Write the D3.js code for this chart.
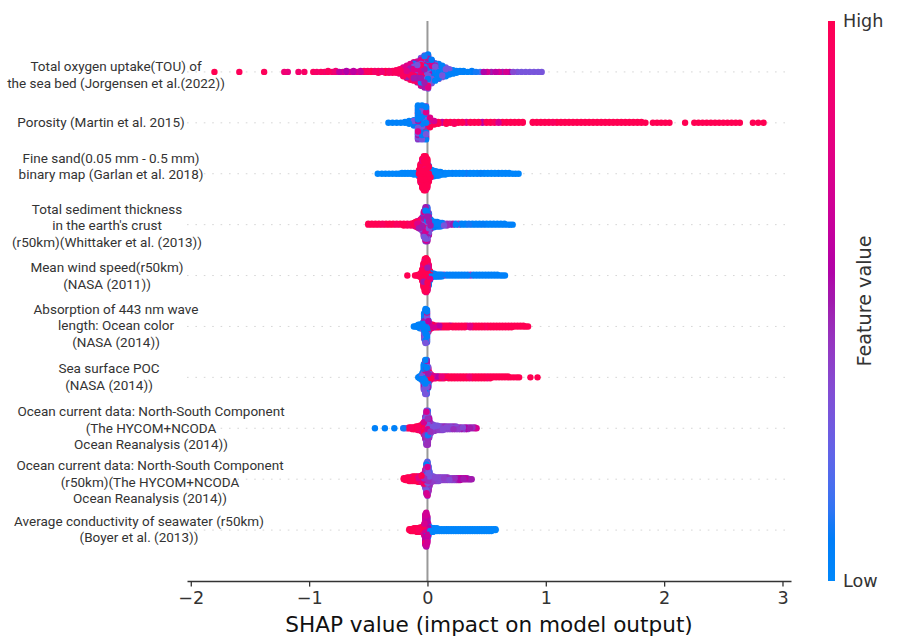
<!DOCTYPE html>
<html>
<head>
<meta charset="utf-8">
<script src="https://cdn.jsdelivr.net/npm/d3@7"></script>
<style>
  body { margin: 0; background: #fff; }
  svg { display: block; }
</style>
</head>
<body>
<svg id="chart" width="901" height="636"></svg>
<script>
// ---------------------------------------------------------------------------
// Feature names, top row first (wrapped onto separate lines)
// ---------------------------------------------------------------------------
const featureLabels = [
  ["Total oxygen uptake(TOU) of", "the sea bed (Jorgensen et al.(2022))"],
  ["Porosity (Martin et al. 2015)"],
  ["Fine sand(0.05 mm - 0.5 mm)", "binary map (Garlan et al. 2018)"],
  ["Total sediment thickness", "in the earth's crust", "(r50km)(Whittaker et al. (2013))"],
  ["Mean wind speed(r50km)", "(NASA (2011))"],
  ["Absorption of 443 nm wave", "length: Ocean color", "(NASA (2014))"],
  ["Sea surface POC", "(NASA (2014))"],
  ["Ocean current data: North-South Component", "(The HYCOM+NCODA", "Ocean Reanalysis (2014))"],
  ["Ocean current data: North-South Component", "(r50km)(The HYCOM+NCODA", "Ocean Reanalysis (2014))"],
  ["Average conductivity of seawater (r50km)", "(Boyer et al. (2013))"]
];

// ---------------------------------------------------------------------------
// SHAP values per feature, as histogram entries:
//   [SHAP value, number of samples, normalised feature value (0 = low, 1 = high)]
// ---------------------------------------------------------------------------
const oxygenUptake = [
  [-1.80,1,1],[-1.59,1,0.97],[-1.38,1,0.97],[-1.21,1,0.85],[-1.18,1,0.8],[-1.09,1,0.88],[-1.04,1,0.92],
  [-0.965,1,0.95],[-0.935,1,0.9],[-0.90,1,0.95],[-0.87,1,0.88],[-0.84,2,0.95],[-0.805,1,0.9],[-0.775,2,0.85],
  [-0.745,1,0.6],[-0.715,1,0.7],[-0.685,2,0.55],[-0.655,1,0.75],[-0.625,2,0.6],[-0.595,1,0.8],[-0.565,2,0.65],[-0.535,2,0.9],
  [-0.505,2,0.95],[-0.475,2,1],[-0.445,2,0.9],[-0.415,3,0.95],[-0.385,2,0.85],[-0.355,3,1],[-0.325,3,0.9],[-0.295,3,0.95],[-0.265,4,0.95],
  [-0.235,4,0.95],[-0.235,2,0.75],
  [-0.205,6,0.95],[-0.205,3,0.75],[-0.205,2,0.5],
  [-0.175,7,0.95],[-0.175,4,0.75],[-0.175,3,0.5],[-0.175,1,0.1],
  [-0.145,7,0.95],[-0.145,5,0.75],[-0.145,4,0.5],[-0.145,3,0.15],
  [-0.115,6,0.95],[-0.115,6,0.75],[-0.115,5,0.5],[-0.115,3,0.3],[-0.115,2,0.1],
  [-0.085,5,0.95],[-0.085,6,0.75],[-0.085,6,0.5],[-0.085,4,0.3],[-0.085,4,0.1],
  [-0.055,5,0.95],[-0.055,7,0.75],[-0.055,8,0.5],[-0.055,7,0.3],[-0.055,6,0.1],
  [-0.025,4,0.95],[-0.025,6,0.75],[-0.025,10,0.5],[-0.025,10,0.3],[-0.025,8,0.1],
  [0.005,3,0.95],[0.005,5,0.75],[0.005,10,0.5],[0.005,11,0.3],[0.005,11,0.08],
  [0.035,3,0.75],[0.035,7,0.5],[0.035,8,0.3],[0.035,10,0.08],
  [0.065,4,0.5],[0.065,6,0.3],[0.065,11,0.05],
  [0.095,2,0.5],[0.095,5,0.3],[0.095,11,0.05],
  [0.125,4,0.3],[0.125,10,0.05],
  [0.155,3,0.3],[0.155,8,0.05],
  [0.185,2,0.3],[0.185,5,0.05],
  [0.215,1,0.3],[0.215,4,0.05],
  [0.245,3,0.05],
  [0.275,2,0.05],[0.305,2,0.05],[0.34,1,0.05],[0.375,2,0.08],[0.41,1,0.1],[0.445,1,0.15],[0.475,1,0.55],[0.505,1,0.7],
  [0.54,1,0.5],[0.575,1,0.6],[0.605,1,0.7],[0.635,1,0.5],[0.665,1,0.7],[0.695,1,0.55],[0.725,1,0.35],[0.76,1,0.3],
  [0.795,1,0.3],[0.83,1,0.3],[0.865,1,0.3],[0.90,1,0.3],[0.935,1,0.3],[0.965,1,0.3]
];

const porosity = [
  [-0.33,1,0.05],[-0.295,1,0.05],[-0.26,1,0.05],[-0.225,1,0.05],[-0.19,2,0.05],[-0.155,4,0.05],[-0.115,6,0.08],[-0.115,1,0.3],
  [-0.08,22,0.05],[-0.08,11,0.3],[-0.08,5,0.5],[-0.08,1,0.75],[-0.08,1,1],
  [-0.046,20,0.05],[-0.046,11,0.3],[-0.046,6,0.5],[-0.046,2,0.75],[-0.046,1,1],
  [-0.012,15,0.05],[-0.012,10,0.3],[-0.012,7,0.5],[-0.012,4,0.75],[-0.012,3,1],
  [0.022,2,0.05],[0.022,2,0.5],[0.022,5,0.75],[0.022,3,1],
  [0.057,3,1],[0.057,2,0.7],[0.091,3,1],[0.125,2,0.65],[0.159,3,1],[0.193,2,1],[0.227,3,0.95],[0.261,2,1],[0.295,2,1],
  [0.329,2,0.75],[0.363,2,1],[0.397,2,1],[0.431,2,1],[0.465,2,0.6],[0.499,2,1],[0.533,2,1],[0.567,2,0.95],[0.601,2,0.7],
  [0.635,2,1],[0.669,2,1],[0.703,2,1],[0.737,2,1],[0.771,2,1],[0.805,2,1],
  [0.89,2,1],[0.924,2,1],[0.958,2,1],[0.992,2,1],[1.026,2,1],[1.06,2,0.95],[1.094,2,1],[1.128,2,1],[1.162,2,1],
  [1.196,2,1],[1.23,2,1],[1.264,2,1],[1.298,2,1],[1.332,2,1],[1.366,2,1],[1.40,2,1],[1.434,2,1],[1.468,2,1],
  [1.502,2,1],[1.536,2,1],[1.57,2,1],[1.604,2,1],[1.638,2,1],[1.672,2,1],[1.706,2,1],[1.74,2,1],[1.774,2,1],
  [1.808,2,1],[1.842,1,1],
  [1.905,1,1],[1.94,1,1],[1.975,1,1],[2.01,1,1],[2.045,1,1],
  [2.177,1,1],
  [2.255,1,1],[2.29,1,1],[2.325,1,1],[2.36,1,1],[2.395,1,1],[2.43,1,1],[2.465,1,1],[2.50,1,1],[2.535,1,1],
  [2.57,1,1],[2.605,1,1],[2.64,1,1],
  [2.75,1,1],[2.795,1,1],[2.84,1,1]
];

const fineSand = [
  [-0.42,1,0.02],[-0.385,1,0.02],[-0.355,1,0.02],[-0.325,1,0.02],[-0.295,1,0.02],[-0.265,1,0.02],[-0.24,1,0.02],
  [-0.215,2,0.02],[-0.19,2,0.02],[-0.165,2,0.02],[-0.14,2,0.02],[-0.115,3,0.02],[-0.09,3,0.02],
  [-0.072,7,1],[-0.072,1,0.02],
  [-0.058,20,1],[-0.058,2,0.8],
  [-0.044,30,1],[-0.044,4,0.8],
  [-0.030,35,1],[-0.030,5,0.8],
  [-0.016,34,1],[-0.016,5,0.85],[-0.016,1,0.3],
  [-0.002,28,1],[-0.002,4,0.85],[-0.002,2,0.05],
  [0.012,12,1],[0.012,2,0.8],[0.012,5,0.05],
  [0.026,3,1],[0.026,6,0.02],[0.026,1,0.3],
  [0.04,8,0.02],[0.054,7,0.02],[0.068,6,0.05],[0.082,5,0.02],[0.096,5,0.02],[0.11,4,0.05],[0.125,3,0.02],
  [0.15,3,0.02],[0.18,2,0.02],[0.21,2,0.05],[0.24,2,0.02],[0.27,2,0.02],[0.30,2,0.02],[0.33,2,0.1],[0.36,2,0.02],
  [0.39,2,0.02],[0.42,2,0.02],[0.45,2,0.05],[0.48,2,0.02],[0.51,2,0.02],[0.54,2,0.02],[0.57,2,0.02],[0.60,2,0.05],
  [0.63,2,0.02],[0.66,2,0.02],[0.69,2,0.02],[0.72,1,0.02],[0.745,1,0.02],[0.77,1,0.02]
];

const sedimentThickness = [
  [-0.50,2,1],[-0.47,2,1],[-0.44,2,1],[-0.41,2,1],[-0.38,2,0.95],[-0.35,2,1],[-0.32,2,1],[-0.29,2,1],[-0.26,2,0.95],
  [-0.23,2,1],[-0.20,3,1],[-0.17,3,0.95],[-0.14,3,1],
  [-0.115,3,1],[-0.115,1,0.75],
  [-0.10,3,1],[-0.10,2,0.75],[-0.10,1,0.5],
  [-0.086,3,1],[-0.086,3,0.75],[-0.086,2,0.5],
  [-0.072,3,1],[-0.072,3,0.75],[-0.072,3,0.5],
  [-0.058,3,0.95],[-0.058,4,0.75],[-0.058,3,0.5],[-0.058,2,0.3],
  [-0.044,3,0.9],[-0.044,4,0.7],[-0.044,5,0.5],[-0.044,4,0.3],
  [-0.030,3,0.9],[-0.030,6,0.7],[-0.030,10,0.5],[-0.030,8,0.3],[-0.030,3,0.05],
  [-0.016,2,0.9],[-0.016,6,0.7],[-0.016,13,0.5],[-0.016,12,0.3],[-0.016,7,0.05],
  [-0.002,1,0.9],[-0.002,5,0.7],[-0.002,12,0.5],[-0.002,12,0.3],[-0.002,10,0.05],
  [0.012,3,0.7],[0.012,8,0.5],[0.012,8,0.3],[0.012,7,0.05],
  [0.026,2,0.5],[0.026,4,0.3],[0.026,6,0.05],
  [0.04,1,0.3],[0.04,7,0.05],[0.054,7,0.05],[0.068,6,0.08],[0.082,6,0.05],[0.096,5,0.05],[0.11,5,0.1],[0.125,4,0.05],[0.14,3,0.3],
  [0.165,3,0.45],[0.19,2,0.35],[0.215,2,0.5],[0.24,2,0.05],[0.265,2,0.4],[0.29,2,0.05],[0.32,2,0.05],[0.35,2,0.1],
  [0.38,2,0.05],[0.41,2,0.05],[0.44,2,0.05],[0.47,2,0.08],[0.50,2,0.05],[0.53,2,0.05],[0.56,2,0.05],[0.59,2,0.05],
  [0.62,2,0.05],[0.65,2,0.05],[0.68,1,0.05],[0.70,1,0.05],[0.72,1,0.05]
];

const windSpeed = [
  [-0.17,1,1],[-0.105,1,1],[-0.09,1,0.95],[-0.077,2,1],[-0.066,3,1],
  [-0.055,6,1],
  [-0.044,12,1],[-0.044,2,0.8],
  [-0.033,22,1],[-0.033,5,0.8],[-0.033,1,0.5],
  [-0.022,28,1],[-0.022,8,0.8],[-0.022,2,0.5],
  [-0.011,27,1],[-0.011,9,0.8],[-0.011,3,0.5],[-0.011,1,0.2],
  [0.0,22,1],[0.0,8,0.8],[0.0,3,0.5],[0.0,3,0.1],
  [0.011,12,1],[0.011,5,0.8],[0.011,2,0.4],[0.011,5,0.05],
  [0.022,4,1],[0.022,2,0.75],[0.022,5,0.05],
  [0.033,5,0.05],[0.044,4,0.05],[0.055,4,0.05],[0.066,3,0.05],[0.077,3,0.08],[0.09,3,0.05],[0.105,3,0.05],[0.12,3,0.05],
  [0.14,2,0.4],[0.165,2,0.05],[0.19,2,0.05],[0.215,2,0.05],[0.24,2,0.05],[0.265,2,0.05],[0.29,2,0.05],[0.315,2,0.05],
  [0.34,2,0.05],[0.365,2,0.4],[0.39,2,0.05],[0.415,2,0.05],[0.44,2,0.05],[0.465,2,0.05],[0.49,2,0.05],[0.515,2,0.05],
  [0.54,2,0.05],[0.565,2,0.05],[0.59,2,0.05],[0.615,1,0.05],[0.635,1,0.05],[0.655,1,0.05]
];

const absorption443 = [
  [-0.115,1,0.05],[-0.10,1,0.05],[-0.088,2,0.05],[-0.076,4,0.05],[-0.064,4,0.05],[-0.064,1,0.3],[-0.052,4,0.05],
  [-0.040,6,0.05],[-0.040,2,0.3],
  [-0.028,16,0.05],[-0.028,8,0.3],[-0.028,4,0.5],[-0.028,2,0.75],
  [-0.016,20,0.05],[-0.016,10,0.3],[-0.016,6,0.5],[-0.016,3,0.75],[-0.016,1,1],
  [-0.004,18,0.05],[-0.004,10,0.3],[-0.004,6,0.5],[-0.004,3,0.75],[-0.004,1,1],
  [0.008,5,0.05],[0.008,4,0.3],[0.008,3,0.6],[0.008,2,1],
  [0.02,5,1],[0.02,2,0.7],[0.032,4,1],[0.032,1,0.6],[0.044,4,1],[0.056,3,0.7],[0.07,3,1],[0.085,3,1],[0.10,3,0.6],
  [0.12,3,1],[0.14,3,1],[0.16,3,1],[0.18,3,1],[0.195,2,0.55],[0.215,3,1],[0.24,3,1],[0.265,3,0.95],[0.29,3,1],
  [0.315,3,1],[0.335,2,0.7],[0.36,3,0.75],[0.385,3,1],[0.41,3,1],[0.435,3,1],[0.46,3,1],[0.485,3,0.95],[0.51,3,1],
  [0.535,3,1],[0.56,3,1],[0.585,3,1],[0.61,3,1],[0.635,3,1],[0.66,3,1],[0.685,3,1],[0.71,3,1],[0.735,2,1],
  [0.76,2,1],[0.785,2,1],[0.81,2,1],[0.83,1,1],[0.85,1,1]
];

const seaSurfacePoc = [
  [-0.078,1,0.05],[-0.066,3,0.05],[-0.054,5,0.05],
  [-0.042,6,0.05],[-0.042,4,0.3],
  [-0.030,16,0.05],[-0.030,8,0.3],[-0.030,4,0.5],[-0.030,2,0.75],
  [-0.018,18,0.05],[-0.018,10,0.3],[-0.018,6,0.5],[-0.018,4,0.75],[-0.018,2,1],
  [-0.006,16,0.05],[-0.006,10,0.3],[-0.006,7,0.5],[-0.006,4,0.75],[-0.006,3,1],
  [0.006,8,0.05],[0.006,6,0.3],[0.006,5,0.5],[0.006,4,0.75],[0.006,2,1],
  [0.018,2,0.3],[0.018,4,0.75],[0.018,4,1],
  [0.03,3,1],[0.03,2,0.75],[0.03,1,0.5],[0.042,2,1],[0.042,2,0.7],[0.055,3,0.75],[0.07,3,1],[0.085,2,0.55],
  [0.10,3,1],[0.12,3,0.8],[0.14,3,1],[0.16,2,0.6],[0.18,3,1],[0.205,3,1],[0.23,3,1],[0.255,3,0.95],[0.28,3,1],
  [0.305,3,1],[0.33,3,1],[0.355,3,0.85],[0.38,3,1],[0.405,3,1],[0.43,3,1],[0.455,3,1],[0.48,3,1],[0.505,3,0.9],
  [0.53,3,1],[0.555,2,1],[0.58,2,1],[0.605,2,1],[0.63,2,1],[0.655,2,1],[0.68,2,1],[0.705,1,1],[0.73,1,1],
  [0.755,1,1],[0.775,1,1],[0.87,1,1],[0.93,1,1]
];

const currentNS = [
  [-0.444,1,0.05],[-0.36,1,0.05],[-0.28,1,0.05],[-0.205,1,0.1],[-0.19,1,0.25],
  [-0.17,1,1],[-0.155,2,1],[-0.14,2,0.95],[-0.125,3,1],[-0.11,3,1],[-0.095,4,1],[-0.08,4,0.95],[-0.08,1,0.8],
  [-0.065,5,1],[-0.065,1,0.8],[-0.052,5,1],[-0.052,2,0.8],
  [-0.041,5,1],[-0.041,3,0.75],[-0.041,2,0.45],
  [-0.030,4,1],[-0.030,4,0.7],[-0.030,4,0.45],[-0.030,3,0.3],
  [-0.019,3,0.95],[-0.019,5,0.7],[-0.019,8,0.45],[-0.019,8,0.3],[-0.019,2,0.1],
  [-0.008,3,0.95],[-0.008,6,0.7],[-0.008,13,0.45],[-0.008,13,0.3],[-0.008,5,0.1],
  [0.003,2,0.95],[0.003,6,0.7],[0.003,13,0.45],[0.003,13,0.3],[0.003,6,0.1],
  [0.014,1,0.9],[0.014,4,0.65],[0.014,8,0.45],[0.014,8,0.3],[0.014,3,0.1],
  [0.025,3,0.6],[0.025,5,0.45],[0.025,5,0.3],
  [0.036,5,0.4],[0.036,4,0.3],[0.047,4,0.45],[0.047,4,0.3],[0.058,4,0.4],[0.058,3,0.3],[0.07,3,0.45],[0.07,3,0.3],
  [0.085,3,0.4],[0.085,3,0.3],[0.10,5,0.35],[0.115,5,0.4],[0.13,5,0.35],[0.145,4,0.45],[0.16,4,0.35],[0.18,4,0.4],
  [0.20,4,0.35],[0.22,4,0.45],[0.24,4,0.35],[0.26,3,0.4],[0.28,3,0.5],[0.30,3,0.35],[0.32,3,0.55],[0.34,3,0.4],
  [0.36,2,0.5],[0.38,2,0.45],[0.40,2,0.6],[0.415,1,0.7]
];

const currentNS50 = [
  [-0.2,2,1],[-0.185,3,1],[-0.17,4,1],[-0.155,4,1],[-0.155,1,0.8],[-0.14,5,0.95],[-0.125,5,1],[-0.125,1,0.75],
  [-0.11,5,1],[-0.11,1,0.8],[-0.095,5,1],[-0.095,1,0.7],[-0.08,5,1],[-0.08,2,0.75],[-0.065,5,0.95],[-0.065,2,0.7],
  [-0.05,5,1],[-0.05,3,0.75],
  [-0.038,4,1],[-0.038,4,0.7],[-0.038,2,0.45],
  [-0.028,3,0.95],[-0.028,4,0.7],[-0.028,4,0.45],[-0.028,2,0.3],
  [-0.018,2,0.9],[-0.018,4,0.7],[-0.018,8,0.45],[-0.018,6,0.3],[-0.018,2,0.05],
  [-0.008,2,0.9],[-0.008,5,0.7],[-0.008,12,0.45],[-0.008,12,0.3],[-0.008,5,0.05],
  [0.0,1,0.9],[0.0,5,0.7],[0.0,12,0.45],[0.0,12,0.3],[0.0,10,0.05],
  [0.008,1,0.9],[0.008,4,0.7],[0.008,10,0.45],[0.008,10,0.3],[0.008,5,0.05],
  [0.016,3,0.65],[0.016,6,0.45],[0.016,6,0.3],[0.016,3,0.05],
  [0.025,4,0.45],[0.025,5,0.3],[0.025,1,0.05],
  [0.035,4,0.4],[0.035,3,0.3],[0.05,3,0.45],[0.05,3,0.3],[0.065,5,0.35],[0.08,5,0.4],[0.095,5,0.35],[0.11,4,0.45],
  [0.125,4,0.35],[0.14,4,0.4],[0.155,4,0.35],[0.17,4,0.45],[0.185,3,0.35],[0.20,3,0.4],[0.215,3,0.35],[0.23,3,0.45],
  [0.245,3,0.5],[0.26,3,0.65],[0.275,3,0.55],[0.29,2,0.65],[0.305,2,0.5],[0.32,2,0.6],[0.335,2,0.45],[0.35,1,0.5],
  [0.362,1,0.45],[0.374,1,0.5]
];

const conductivity = [
  [-0.153,2,1],[-0.14,3,1],[-0.127,3,1],[-0.114,4,1],[-0.10,4,1],[-0.087,5,1],[-0.074,5,0.95],[-0.061,6,1],[-0.048,6,0.95],
  [-0.036,5,1],[-0.036,3,0.75],
  [-0.026,4,0.9],[-0.026,6,0.7],[-0.026,4,0.6],
  [-0.018,4,0.9],[-0.018,14,0.68],[-0.018,12,0.6],[-0.018,4,0.55],
  [-0.010,3,0.9],[-0.010,16,0.68],[-0.010,14,0.6],[-0.010,5,0.5],
  [-0.002,2,0.9],[-0.002,12,0.68],[-0.002,10,0.6],[-0.002,4,0.5],[-0.002,2,0.05],
  [0.006,5,0.65],[0.006,4,0.55],[0.006,6,0.05],
  [0.015,7,0.02],[0.024,6,0.02],[0.034,5,0.02],[0.045,5,0.02],[0.06,4,0.02],[0.08,4,0.02],[0.10,3,0.02],[0.12,3,0.02],
  [0.14,3,0.02],[0.16,3,0.05],[0.18,3,0.02],[0.20,3,0.02],[0.22,3,0.02],[0.24,3,0.02],[0.26,3,0.02],[0.28,3,0.02],
  [0.30,3,0.02],[0.32,3,0.02],[0.34,3,0.02],[0.36,3,0.02],[0.38,3,0.02],[0.40,3,0.02],[0.42,3,0.02],[0.44,3,0.02],
  [0.46,3,0.02],[0.48,3,0.02],[0.50,3,0.02],[0.52,3,0.02],[0.54,3,0.02],[0.56,2,0.02],[0.575,2,0.02]
];

const featureSeries = [
  oxygenUptake, porosity, fineSand, sedimentThickness, windSpeed,
  absorption443, seaSurfacePoc, currentNS, currentNS50, conductivity
];

const xTicks = [-2, -1, 0, 1, 2, 3];
const colorbarTicks = ["Low", "High"];

// ---------------------------------------------------------------------------
// Layout
// ---------------------------------------------------------------------------
const plot = { left: 187, right: 791, top: 21, bottom: 581 };
// horizontal centre of each wrapped label and vertical shift of the block
const labelPlacement = [[116, 3], [101, -0.5], [111, -7.5], [107, 1], [107, 0],
                        [116, -1], [109, -0.5], [151, 0], [150, 3], [139, -1]];
const labelLineHeight = 16.5;
const dotRadius = 3.2;
const rowHeight = 0.4;

const svg = d3.select("#chart");
const nFeat = featureSeries.length;

// Perceptual red-blue colour map (Lch path from blue to red)
function redBlue(t) {
  const h0 = 4.6588, h1 = 0.35470565 + 2 * Math.PI;
  const l = t < 0.5 ? 54 + (40 - 54) * (t / 0.5) : 40 + (54 - 40) * ((t - 0.5) / 0.5);
  const c = 70 + 20 * t;
  const h = (h0 + (h1 - h0) * t) * 180 / Math.PI;
  return d3.hcl(h, c, l).formatHex();
}

// Expand histogram entries and stack them like a SHAP beeswarm
function beeswarm(entries) {
  const pts = [];
  entries.forEach(([s, n, v], ei) => {
    for (let k = 0; k < n; k++) pts.push({ s, v, rank: (k + 0.5) / n, ei });
  });
  const lo = d3.min(pts, p => p.s), hi = d3.max(pts, p => p.s);
  const nbins = 100;
  pts.forEach(p => { p.q = Math.round(nbins * (p.s - lo) / (hi - lo + 1e-8)); });
  const ordered = pts.slice().sort((a, b) => a.q - b.q || a.rank - b.rank || a.ei - b.ei);
  let layer = 0, last = -1;
  ordered.forEach(p => {
    if (p.q !== last) layer = 0;
    p.ys = Math.ceil(layer / 2) * ((layer % 2) * 2 - 1);
    layer++;
    last = p.q;
  });
  const m = d3.max(pts, p => p.ys + 1);
  pts.forEach(p => { p.ys *= 0.9 * (rowHeight / m); });
  // scatter drawing order so colours interleave
  pts.forEach((p, i) => { p.draw = (i * 0.6180339887) % 1; });
  return pts.sort((a, b) => a.draw - b.draw);
}

// Scales
const allShap = featureSeries.flatMap(f => f.map(d => d[0]));
const [sMin, sMax] = d3.extent(allShap);
const pad = 0.05 * (sMax - sMin);
const x = d3.scaleLinear().domain([sMin - pad, sMax + pad]).range([plot.left, plot.right]);
const y = d3.scaleLinear().domain([-1, nFeat]).range([plot.bottom, plot.top]);
const rowPos = i => nFeat - 1 - i;

// Row guide lines
svg.append("g").selectAll("line").data(featureSeries).join("line")
  .attr("x1", plot.left).attr("x2", plot.right)
  .attr("y1", (d, i) => y(rowPos(i))).attr("y2", (d, i) => y(rowPos(i)))
  .attr("stroke", "#cccccc").attr("stroke-width", 0.8).attr("stroke-dasharray", "1.6,6.8");

// Zero line
svg.append("line")
  .attr("x1", x(0)).attr("x2", x(0)).attr("y1", plot.top).attr("y2", plot.bottom)
  .attr("stroke", "#999999").attr("stroke-width", 2);

// Points
const dots = svg.append("g");
featureSeries.forEach((entries, i) => {
  const pts = beeswarm(entries);
  dots.append("g").selectAll("circle").data(pts).join("circle")
    .attr("cx", p => x(p.s))
    .attr("cy", p => y(rowPos(i) + p.ys))
    .attr("r", dotRadius)
    .attr("fill", p => redBlue(p.v));
});

// Feature labels
const labels = svg.append("g")
  .attr("font-family", "Roboto, 'Noto Sans', sans-serif")
  .attr("font-size", 13.5)
  .attr("fill", "#333333");
featureLabels.forEach((lines, i) => {
  const [cx, dy] = labelPlacement[i];
  const c = y(rowPos(i)) + dy;
  const top = c - (lines.length - 1) * labelLineHeight / 2;
  const t = labels.append("text").attr("text-anchor", "middle");
  lines.forEach((ln, k) => {
    t.append("tspan").attr("x", cx).attr("y", top + k * labelLineHeight)
      .attr("dy", "0.35em").text(ln);
  });
});

// X axis
const xAxis = d3.axisBottom(x)
  .tickValues(xTicks)
  .tickSize(5.6)
  .tickSizeOuter(0)
  .tickPadding(4.5)
  .tickFormat(d => d < 0 ? "\u2212" + Math.abs(d) : String(d));
const gx = svg.append("g").attr("transform", `translate(0,${plot.bottom})`).call(xAxis);
gx.select(".domain").attr("stroke", "#333333").attr("stroke-width", 1.3);
gx.selectAll(".tick line").attr("stroke", "#333333").attr("stroke-width", 1.3);
gx.selectAll(".tick text")
  .attr("font-family", "'DejaVu Sans', sans-serif")
  .attr("font-size", 17.6)
  .attr("fill", "#333333");

svg.append("text")
  .attr("x", (plot.left + plot.right) / 2)
  .attr("y", 632)
  .attr("text-anchor", "middle")
  .attr("font-family", "'DejaVu Sans', sans-serif")
  .attr("font-size", 21.6)
  .attr("fill", "#111111")
  .text("SHAP value (impact on model output)");

// Colour bar
const grad = svg.append("defs").append("linearGradient")
  .attr("id", "featureGradient").attr("x1", 0).attr("y1", 1).attr("x2", 0).attr("y2", 0);
d3.range(0, 1.0001, 0.025).forEach(t => {
  grad.append("stop").attr("offset", t).attr("stop-color", redBlue(t));
});
const cb = { x: 828, w: 7 };
const cbScale = d3.scaleLinear().domain([0, 1]).range([plot.bottom, plot.top]);
svg.append("rect")
  .attr("x", cb.x).attr("width", cb.w)
  .attr("y", cbScale(1)).attr("height", cbScale(0) - cbScale(1))
  .attr("fill", "url(#featureGradient)");

svg.append("g").selectAll("text").data(colorbarTicks).join("text")
  .attr("x", 843)
  .attr("y", (d, i) => cbScale(i))
  .attr("dy", "0.35em")
  .attr("font-family", "'DejaVu Sans', sans-serif")
  .attr("font-size", 17.6)
  .attr("fill", "#333333")
  .text(d => d);

svg.append("text")
  .attr("transform", `translate(871,${(plot.top + plot.bottom) / 2}) rotate(-90)`)
  .attr("text-anchor", "middle")
  .attr("font-family", "'DejaVu Sans', sans-serif")
  .attr("font-size", 19.2)
  .attr("fill", "#333333")
  .text("Feature value");
</script>
</body>
</html>
